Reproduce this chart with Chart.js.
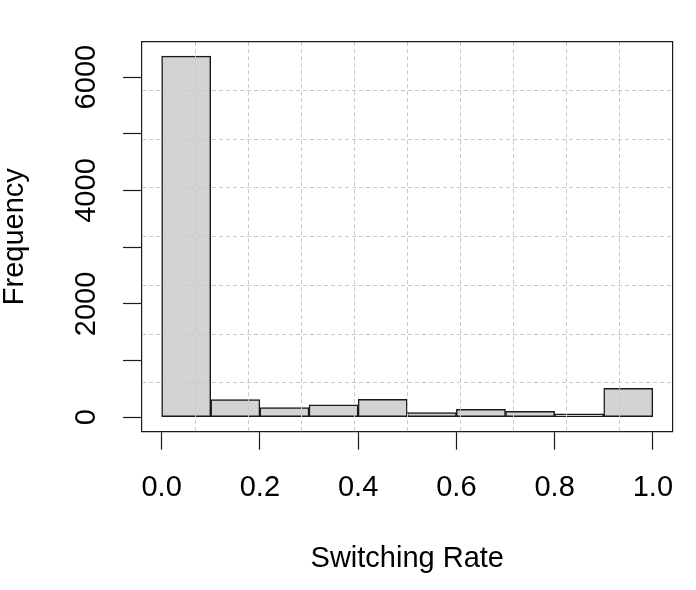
<!DOCTYPE html>
<html>
<head>
<meta charset="utf-8">
<script src="https://cdn.jsdelivr.net/npm/chart.js@4.4.0/dist/chart.umd.min.js"></script>
<style>
  html, body { margin: 0; padding: 0; background: #fff; }
  #wrap { width: 696px; height: 590px; }
</style>
</head>
<body>
<div id="wrap"><canvas id="hist"></canvas></div>
<script>
'use strict';

// ---- Data ----
const binEdges = [0, 0.1, 0.2, 0.3, 0.4, 0.5, 0.6, 0.7, 0.8, 0.9, 1.0];
const counts   = [6370, 312, 171, 218, 318, 82, 141, 106, 59, 512];
const xTicks   = [0, 0.2, 0.4, 0.6, 0.8, 1.0];
const yTicks   = [0, 1000, 2000, 3000, 4000, 5000, 6000];
const yLabels  = [0, 2000, 4000, 6000];

// ---- Layout / style ----
const PLOT = { left: 142, top: 41.7, right: 672.5, bottom: 431.7 };
const FONT = '"Liberation Sans", Arial, sans-serif';
const FSIZE = 29;
const INK  = '#1a1a1a';
const GRID = '#c8c8c8';

// R-style axis ranges: data range padded 4% each side
function rRange(lo, hi) {
  const d = (hi - lo) * 0.04;
  return [lo - d, hi + d];
}
const [xMin, xMax] = rRange(binEdges[0], binEdges[binEdges.length - 1]);
const [yMin, yMax] = rRange(0, Math.max(...counts));

// grid(): equal divisions of the plot region (10 across, 8 up)
function divisions(lo, hi, n) {
  const out = [];
  for (let i = 1; i < n; i++) out.push(lo + (hi - lo) * i / n);
  return out;
}
const xGrid = divisions(xMin, xMax, 10);
const yGrid = divisions(yMin, yMax, 8);

const points = counts.map((c, i) => ({ x: (binEdges[i] + binEdges[i + 1]) / 2, y: c }));
const setTicks = vals => scale => { scale.ticks = vals.map(v => ({ value: v })); };

new Chart(document.getElementById('hist'), {
  type: 'bar',
  data: {
    datasets: [{
      data: points,
      backgroundColor: '#d3d3d3',
      borderColor: INK,
      borderWidth: 1.5,
      borderSkipped: false,
      barPercentage: 1,
      categoryPercentage: 1,
    }],
  },
  options: {
    responsive: true,
    maintainAspectRatio: false,
    animation: false,
    layout: { padding: { top: PLOT.top, right: 696 - PLOT.right, left: 0, bottom: 0 } },
    plugins: { legend: { display: false }, tooltip: { enabled: false } },
    scales: {
      x: {
        type: 'linear', position: 'bottom', min: xMin, max: xMax, offset: false,
        afterBuildTicks: setTicks(xTicks),
        afterFit: s => { s.height = 590 - PLOT.bottom; },
        ticks: {
          autoSkip: false, maxRotation: 0, color: '#000', padding: 20.4,
          font: { family: FONT, size: FSIZE },
          callback: v => v.toFixed(1),
        },
        grid: { offset: false, drawOnChartArea: false, tickLength: 18, tickColor: INK, tickWidth: 1.2 },
        border: { display: true, color: INK, width: 1.2 },
        title: {
          display: true, text: 'Switching Rate', color: '#000',
          font: { family: FONT, size: FSIZE }, padding: { top: 0, bottom: 13.8 },
        },
      },
      y: {
        type: 'linear', position: 'left', min: yMin, max: yMax,
        afterBuildTicks: setTicks(yTicks),
        afterFit: s => { s.width = PLOT.left; },
        ticks: {
          autoSkip: false, minRotation: 90, maxRotation: 90, crossAlign: 'center',
          color: '#000', padding: 3.75, font: { family: FONT, size: FSIZE },
          callback: v => (yLabels.includes(v) ? String(v) : ''),
        },
        grid: { drawOnChartArea: false, tickLength: 19, tickColor: INK, tickWidth: 1.2 },
        border: { display: true, color: INK, width: 1.2 },
        title: {
          display: true, text: 'Frequency', color: '#000',
          font: { family: FONT, size: FSIZE }, padding: { top: -2.1, bottom: 0 },
        },
      },
      // dashed grid on top of the bars + top/right sides of the box
      x2: {
        type: 'linear', position: 'top', min: xMin, max: xMax, offset: false,
        afterBuildTicks: setTicks(xGrid),
        afterFit: s => { s.height = 0; },
        ticks: { display: false },
        grid: { offset: false, drawTicks: false, color: GRID, lineWidth: 1, z: 1 },
        border: { display: true, color: INK, width: 1.2, dash: [4, 3], z: 1 },
      },
      y2: {
        type: 'linear', position: 'right', min: yMin, max: yMax,
        afterBuildTicks: setTicks(yGrid),
        afterFit: s => { s.width = 0; },
        ticks: { display: false },
        grid: { drawTicks: false, color: GRID, lineWidth: 1, z: 1 },
        border: { display: true, color: INK, width: 1.2, dash: [4, 3], z: 1 },
      },
    },
  },
});
</script>
</body>
</html>
